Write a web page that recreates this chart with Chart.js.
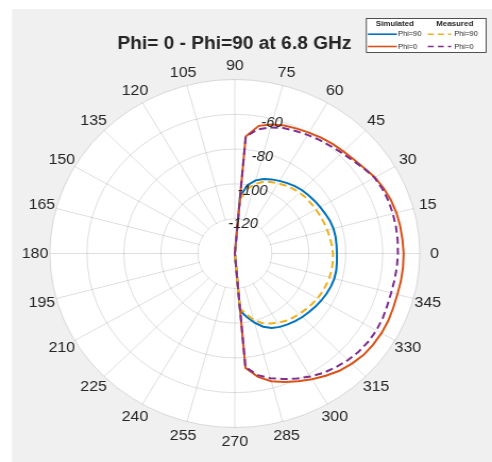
<!DOCTYPE html>
<html><head><meta charset="utf-8">
<script src="https://cdn.jsdelivr.net/npm/chart.js@4"></script>
<style>
html,body{margin:0;padding:0;background:#fff;overflow:hidden;width:492px;height:462px;}
#wrap{position:absolute;left:0;top:0;width:463px;height:462px;transform:scaleX(1.0626);transform-origin:0 0;}
canvas{display:block;}
</style></head><body>
<div id="wrap"><canvas id="c" width="463" height="462"></canvas></div>
<script>
// ---- data (angles in degrees, counter-clockwise from east; values in dB) ----
const angles     = [90,85,80,75,70,65,60,55,50,45,40,35,30,25,20,15,10,5,0,-5,-10,-15,-20,-25,-30,-35,-40,-45,-50,-55,-60,-65,-70,-75,-80,-85,-90];
const simPhi90   = [-140,-107,-100,-96.5,-94.5,-93,-91.8,-90.6,-89.5,-88.6,-88,-87.3,-86.7,-86,-85.2,-84.8,-84.7,-84.8,-84.8,-84.6,-84.3,-84.3,-84.7,-85.3,-86,-86.8,-87.6,-88.4,-89.3,-90.3,-91.3,-92.8,-95.2,-98.8,-103,-107,-140];
const simPhi0    = [-140,-72.5,-65.5,-63.3,-61.7,-60.8,-59.8,-58.7,-57.8,-57,-56,-54.5,-52.5,-51.2,-50.2,-49.5,-49.2,-49,-48.7,-48.7,-48.8,-49,-48.8,-48.5,-48.4,-48.7,-49.2,-50.5,-52,-54.2,-56.6,-59,-61.4,-64,-68,-74,-140];
const measPhi90  = [-140,-109,-102.5,-98.8,-96.3,-94.6,-93.4,-92.3,-91.3,-90.5,-90,-89.7,-89.4,-89,-88.6,-88.2,-87.8,-87.3,-86.9,-86.8,-86.8,-87,-87.4,-87.8,-88.4,-89.2,-90,-90.8,-91.6,-92.6,-94,-95.6,-97.5,-100.5,-104.5,-108.5,-140];
const measPhi0   = [-140,-72.5,-67.5,-65,-63.3,-62.3,-61.3,-60.3,-59.4,-58.2,-56.8,-54.8,-52.8,-52,-51.6,-51.5,-51.5,-51.6,-51.8,-52,-52.3,-52.5,-52.3,-51.8,-51.6,-51.8,-52.4,-53.4,-54.8,-56.3,-58.3,-60.7,-63.2,-65.8,-69,-74.5,-140];
const angleTickLabels = ['0','15','30','45','60','75','90','105','120','135','150','165','180','195','210','225','240','255','270','285','300','315','330','345'];
const rTickLabels = ['-120','-100','-80','-60'];
const rTickValues = [-120,-100,-80,-60];
const rMin = -140, rMax = -40, rStep = 20;
const titleText = 'Phi= 0 - Phi=90 at 6.8 GHz';
const legendHeaders = ['Simulated','Measured'];
const legendNames = ['Phi=90','Phi=0'];

// ---- styling ----
const COL = {blue:'#0072BD', orange:'#D95319', yellow:'#EDB120', purple:'#7E2F8E',
             text:'#262626', grid:'rgba(38,38,38,0.15)', fig:'#f0f0f0'};
const FONT = '"Liberation Sans", Arial, Helvetica, sans-serif';
const STEP = 5, N = 360 / STEP;
const CX = 221, CY = 253.5, R = 174;

// radar categories: clockwise from top => angle = 90 - 5*i
const radarAngles = [];
for (let i = 0; i < N; i++) radarAngles.push(90 - STEP * i);
function toRadar(series) {
  return radarAngles.map(a => {
    const k = angles.indexOf(a);
    return k >= 0 ? series[k] : null;
  });
}
function indexOfAngle(a) { return (((90 - a) / STEP) % N + N) % N; }

const deco = {
  id: 'deco',
  beforeDraw(chart) {
    const ctx = chart.ctx, s = chart.scales.r;
    ctx.save();
    ctx.fillStyle = '#fff'; ctx.fillRect(0, 0, chart.width, chart.height);
    ctx.fillStyle = COL.fig; ctx.fillRect(11.3, 9, chart.width - 11.3, chart.height - 9);
    ctx.beginPath(); ctx.arc(s.xCenter, s.yCenter, s.drawingArea, 0, Math.PI * 2);
    ctx.fillStyle = '#fff'; ctx.fill();
    ctx.restore();
  },
  beforeDatasetsDraw(chart) {
    const ctx = chart.ctx, s = chart.scales.r;
    const r = s.getDistanceFromCenterForValue(rTickValues[0]) - 0.5;
    ctx.save(); ctx.beginPath(); ctx.arc(s.xCenter, s.yCenter, r, 0, Math.PI * 2);
    ctx.fillStyle = '#fff'; ctx.fill(); ctx.restore();
  },
  afterDatasetsDraw(chart) {
    const ctx = chart.ctx, s = chart.scales.r;
    ctx.save();
    ctx.fillStyle = COL.text;
    // angle labels
    ctx.font = '15px ' + FONT; ctx.textAlign = 'center'; ctx.textBaseline = 'middle';
    angleTickLabels.forEach(t => {
      const p = s.getPointPosition(indexOfAngle(+t), s.drawingArea + 14);
      ctx.fillText(t, p.x, p.y + 0.5);
    });
    // r tick labels at 75 deg
    ctx.font = 'italic 14px ' + FONT;
    const th = 75 * Math.PI / 180;
    rTickValues.forEach((v, k) => {
      const d = s.getDistanceFromCenterForValue(v) - 4.5;
      ctx.fillText(rTickLabels[k], s.xCenter + d * Math.cos(th), s.yCenter - d * Math.sin(th));
    });
    // title
    ctx.font = 'bold 18px ' + FONT; ctx.textBaseline = 'alphabetic';
    ctx.fillText(titleText, 220.6, 48.5);
    // legend
    const lx = 344.3, ly = 18, lw = 113.8, lh = 35;
    ctx.fillStyle = '#fff'; ctx.fillRect(lx, ly, lw, lh);
    ctx.strokeStyle = '#262626'; ctx.lineWidth = 0.8; ctx.strokeRect(lx + 0.5, ly + 0.5, lw - 1, lh - 1);
    ctx.fillStyle = COL.text;
    ctx.font = 'bold 7.5px ' + FONT; ctx.textAlign = 'center'; ctx.textBaseline = 'middle';
    ctx.fillText(legendHeaders[0], 371.6, 24);
    ctx.fillText(legendHeaders[1], 428, 24);
    ctx.font = '7px ' + FONT; ctx.textAlign = 'left';
    const rows = [
      {y: 34.2, sim: COL.blue, meas: COL.yellow, name: legendNames[0]},
      {y: 46.5, sim: COL.orange, meas: COL.purple, name: legendNames[1]}
    ];
    rows.forEach(r => {
      ctx.lineWidth = 1.6;
      ctx.setLineDash([]); ctx.strokeStyle = r.sim;
      ctx.beginPath(); ctx.moveTo(346.2, r.y); ctx.lineTo(373.5, r.y); ctx.stroke();
      ctx.setLineDash([5.5, 4]); ctx.strokeStyle = r.meas;
      ctx.beginPath(); ctx.moveTo(402.6, r.y); ctx.lineTo(424.6, r.y); ctx.stroke();
      ctx.setLineDash([]);
      ctx.fillStyle = COL.text;
      ctx.fillText(r.name, 374.6, r.y + 0.3);
      ctx.fillText(r.name, 427.6, r.y + 0.3);
    });
    ctx.restore();
  }
};

const mkDs = (label, data, color, dashed) => ({
  label, data: toRadar(data), borderColor: color, backgroundColor: color,
  borderWidth: 2, borderDash: dashed ? [7, 4] : [], pointRadius: 0, fill: false,
  tension: 0, spanGaps: false, clip: false
});

new Chart(document.getElementById('c'), {
  type: 'radar',
  data: {
    labels: radarAngles.map(String),
    datasets: [
      mkDs('Measured Phi=0', measPhi0, COL.purple, true),
      mkDs('Measured Phi=90', measPhi90, COL.yellow, true),
      mkDs('Simulated Phi=0', simPhi0, COL.orange, false),
      mkDs('Simulated Phi=90', simPhi90, COL.blue, false)
    ]
  },
  options: {
    responsive: false, animation: false, events: [],
    devicePixelRatio: 1,
    layout: {padding: 0},
    plugins: {legend: {display: false}, title: {display: false}, tooltip: {enabled: false}},
    scales: {
      r: {
        min: rMin, max: rMax, beginAtZero: false, startAngle: 0,
        ticks: {display: false, stepSize: rStep},
        pointLabels: {display: false},
        grid: {circular: true, color: COL.grid, lineWidth: 1},
        angleLines: {display: true, color: COL.grid,
          lineWidth: ctx => (ctx.index % 3 === 0 ? 1 : 0)},
        afterFit(scale) { scale.xCenter = CX; scale.yCenter = CY; scale.drawingArea = R; }
      }
    }
  },
  plugins: [deco]
});
</script>
</body></html>
